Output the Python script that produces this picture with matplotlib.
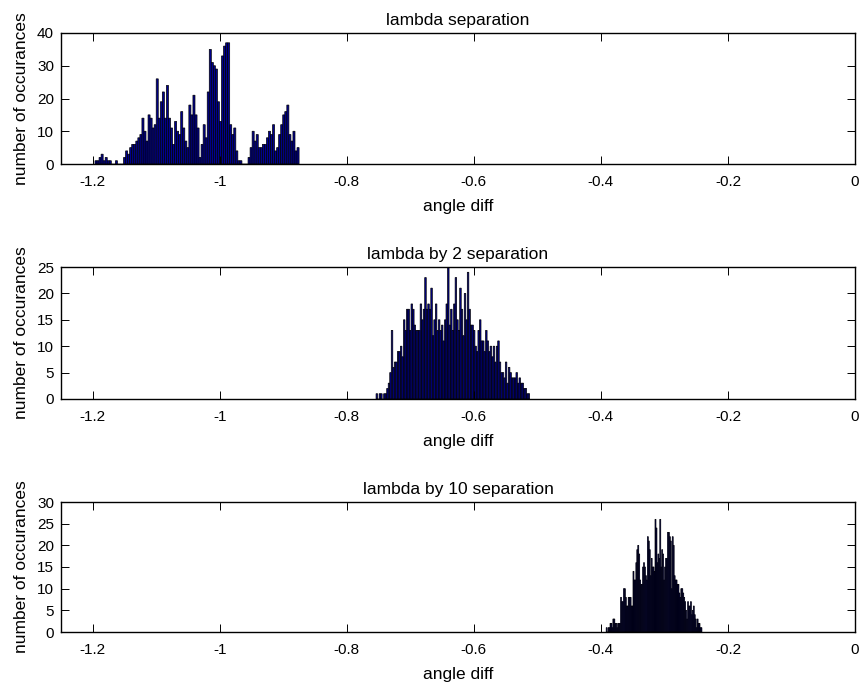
import numpy as np
import matplotlib
matplotlib.use("Agg")
import matplotlib.pyplot as plt

plt.rcParams['font.family'] = ['Liberation Sans', 'DejaVu Sans']

titles = ["lambda separation", "lambda by 2 separation", "lambda by 10 separation"]
xlabel = "angle diff"
ylabel = "number of occurances"

# histogram ranges (data min / max) and counts (100 bins each)
range1 = (-1.1965, -0.8752)
counts1 = [1, 1, 2, 3, 1, 2, 1, 1, 0, 0, 1, 0, 0, 0,
           2, 4, 3, 5, 6, 6, 7, 8, 9, 14, 10, 7, 15, 14, 11, 12, 26, 14, 19, 22,
           14, 24, 14, 11, 6, 13, 10, 9, 16, 11, 7, 5, 18, 15, 21, 15, 11,
           2, 6, 12, 8, 22, 35, 31, 30, 29, 19, 13, 33, 36, 37, 37, 12, 9, 11, 4, 1, 1,
           0, 0, 0,
           2, 5, 10, 7, 9, 5, 5, 6, 6, 8, 10, 9, 12, 4, 5, 9, 12, 15, 16, 18, 9, 7, 10, 4, 5]

range2 = (-0.7540, -0.5122)
counts2 = [1, 0, 1, 1, 0, 1, 1, 2,
           3, 5, 13, 6, 7, 7, 9, 9, 10, 8, 15, 13, 17, 17, 13, 18, 17, 14, 13, 13,
           13, 18, 15, 17, 23, 17, 18, 17, 21, 12, 15, 18, 13, 15, 13, 14, 11, 15,
           18, 25, 14, 17, 13, 18, 23, 15, 13, 21, 17, 12, 20, 15, 24, 17, 14, 14,
           13, 10, 9, 13, 15, 11, 11, 9, 13, 11, 9, 10, 8, 10, 7, 10, 11, 7, 5, 5,
           4, 7, 3, 6, 5, 4, 4, 4, 5, 3, 4, 3, 3, 2, 2, 1, 1]

range3 = (-0.3917, -0.2410)
counts3 = [1, 0, 1, 1, 2, 2, 1, 3, 3, 2, 2, 1, 2, 2, 2,
           8, 7, 7, 10, 10, 8, 6, 6, 8, 8, 8, 6, 6, 14, 12, 12, 16, 19, 20, 18,
           12, 11, 11, 15, 16, 15, 13, 12, 22, 21, 19, 13, 17, 15, 15, 14, 26, 24,
           16, 18, 17, 26, 15, 19, 18, 12, 15, 17, 17, 23, 23, 22, 21, 10, 22, 20,
           13, 12, 12, 11, 11, 9, 8, 10, 10, 9, 8, 7, 5, 3, 7, 6, 6, 7, 4, 5, 6,
           4, 3, 1, 3, 2, 2, 1, 1]

ymax = [40, 25, 30]
ystep = [10, 5, 5]
xticks = [-1.2, -1.0, -0.8, -0.6, -0.4, -0.2, 0.0]
xticklabels = ["-1.2", "-1", "-0.8", "-0.6", "-0.4", "-0.2", "0"]
xlim = (-1.25, 0.0)

fig = plt.figure(figsize=(8.65, 6.85), dpi=100)
W, H = 865, 685
boxes = [(61, 33, 855, 164), (61, 267, 855, 399), (61, 502, 855, 632)]

face = '#00008F'
data = [(range1, counts1), (range2, counts2), (range3, counts3)]
for k, ((lo, hi), cnt) in enumerate(data):
    l, t, r, b = boxes[k]
    ax = fig.add_axes([l / W, (H - b) / H, (r - l) / W, (b - t) / H])
    cnt = np.asarray(cnt)
    edges = np.linspace(lo, hi, len(cnt) + 1)
    bars = ax.bar(edges[:-1], cnt, width=np.diff(edges), align='edge',
                  color=face, edgecolor='black', linewidth=0.5)
    for p in bars:
        p.set_snap(False)
    ax.set_xlim(*xlim)
    ax.set_ylim(0, ymax[k])
    ax.set_yticks(np.arange(0, ymax[k] + 1, ystep[k]))
    ax.set_xticks(xticks)
    ax.set_xticklabels(xticklabels)
    ax.tick_params(direction='in', length=5.8, width=0.7, top=True, right=True,
                   labelsize=11, colors='black')
    ax.tick_params(axis='x', pad=8)
    ax.tick_params(axis='y', pad=5)
    for s in ax.spines.values():
        s.set_linewidth(1.0)
    ax.set_title(titles[k], fontsize=12.5, pad=6)
    ax.set_xlabel(xlabel, fontsize=12.5, labelpad=7)
    ax.set_ylabel(ylabel, fontsize=12.5, labelpad=6)

fig.savefig("out.png", dpi=100)
